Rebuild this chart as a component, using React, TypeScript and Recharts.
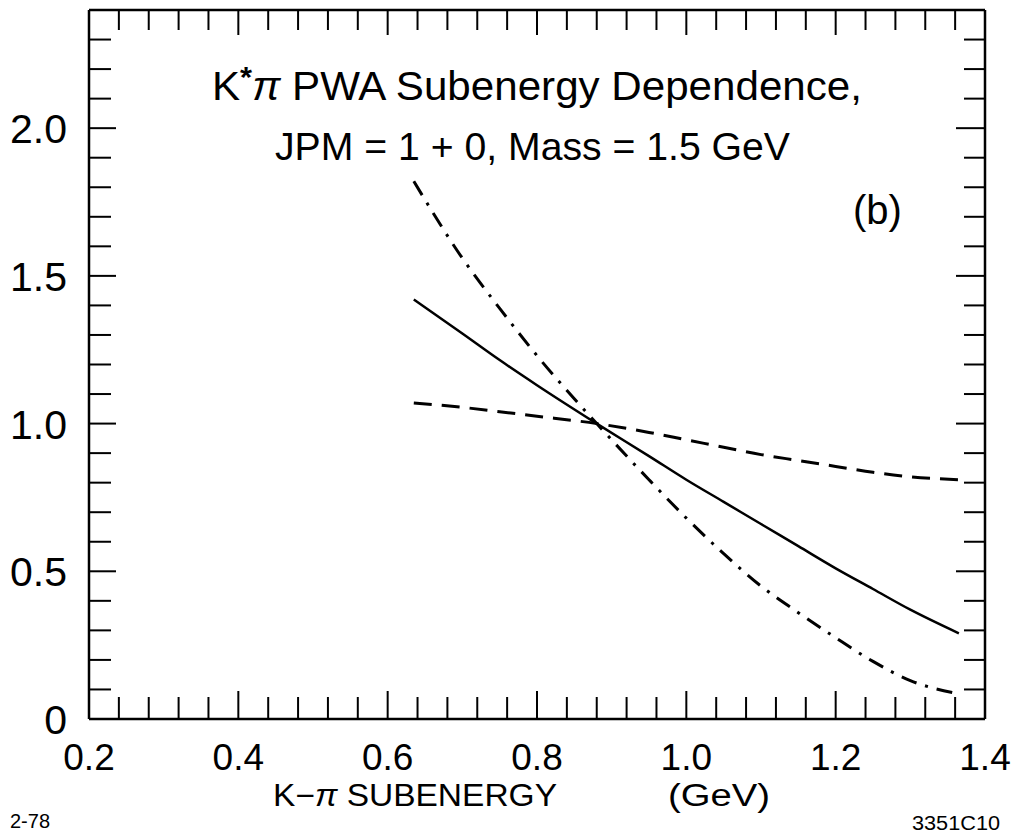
import React from 'react';
import { LineChart, Line, XAxis, YAxis } from 'recharts';

const xs = [0.635, 0.7, 0.75, 0.8, 0.88, 0.95, 1.0, 1.05, 1.1, 1.15, 1.2, 1.25, 1.3, 1.365];
const solid = [1.42, 1.305, 1.215, 1.13, 1.0, 0.89, 0.81, 0.735, 0.66, 0.585, 0.51, 0.44, 0.37, 0.29];
const dashed = [1.07, 1.055, 1.04, 1.025, 1.0, 0.97, 0.945, 0.92, 0.895, 0.875, 0.855, 0.835, 0.82, 0.81];
const dashDot = [1.82, 1.56, 1.39, 1.23, 1.0, 0.81, 0.68, 0.56, 0.45, 0.36, 0.275, 0.195, 0.13, 0.085];

const xTicks = [0.2, 0.24, 0.28, 0.32, 0.36, 0.4, 0.44, 0.48, 0.52, 0.56, 0.6, 0.64, 0.68, 0.72, 0.76, 0.8,
  0.84, 0.88, 0.92, 0.96, 1.0, 1.04, 1.08, 1.12, 1.16, 1.2, 1.24, 1.28, 1.32, 1.36, 1.4];
const yTicks = [0, 0.1, 0.2, 0.3, 0.4, 0.5, 0.6, 0.7, 0.8, 0.9, 1.0, 1.1, 1.2, 1.3, 1.4, 1.5, 1.6, 1.7,
  1.8, 1.9, 2.0, 2.1, 2.2, 2.3, 2.4];
const xLabels: Record<string, string> = { '0.2': '0.2', '0.4': '0.4', '0.6': '0.6', '0.8': '0.8', '1': '1.0', '1.2': '1.2', '1.4': '1.4' };
const yLabels: Record<string, string> = { '0': '0', '0.5': '0.5', '1': '1.0', '1.5': '1.5', '2': '2.0' };

const data = xs.map((x, i) => ({ x, solid: solid[i], dashed: dashed[i], dashDot: dashDot[i] }));

const FONT = '"Liberation Sans", Arial, sans-serif';
const isMajorX = (v: number) => Math.abs(v * 5 - Math.round(v * 5)) < 1e-6;
const isMajorY = (v: number) => Math.abs(v * 2 - Math.round(v * 2)) < 1e-6;

const BottomTick = ({ x, y, payload }: any) => {
  const v = payload.value;
  const major = isMajorX(v);
  const label = xLabels[String(Math.round(v * 10) / 10)];
  return (
    <g>
      <line x1={x} x2={x} y1={y} y2={y - (major ? 28 : 22)} stroke="#000" strokeWidth={2} />
      {major && label && (
        <text x={x} y={y + 51} textAnchor="middle" fontSize={37} fontFamily={FONT} fill="#000">{label}</text>
      )}
    </g>
  );
};

const TopTick = ({ x, y, payload }: any) => {
  const major = isMajorX(payload.value);
  return <line x1={x} x2={x} y1={y} y2={y + (major ? 25 : 20)} stroke="#000" strokeWidth={2} />;
};

const LeftTick = ({ x, y, payload }: any) => {
  const v = payload.value;
  const major = isMajorY(v);
  const label = yLabels[String(Math.round(v * 10) / 10)];
  return (
    <g>
      <line x1={x} x2={x + (major ? 27 : 22)} y1={y} y2={y} stroke="#000" strokeWidth={2} />
      {major && label && (
        <text x={67} y={y + 15} textAnchor="end" fontSize={41} fontFamily={FONT} fill="#000">{label}</text>
      )}
    </g>
  );
};

const RightTick = ({ x, y, payload }: any) => {
  const major = isMajorY(payload.value);
  return <line x1={x} x2={x - (major ? 29 : 21)} y1={y} y2={y} stroke="#000" strokeWidth={2} />;
};

export default function App() {
  return (
    <div style={{ position: 'absolute', left: 0, top: 0, width: 1012, height: 839, background: '#fff' }}>
      <LineChart width={1012} height={839} data={data} margin={{ top: 0, right: 0, bottom: 0, left: 0 }}>
        <XAxis dataKey="x" type="number" domain={[0.2, 1.4]} allowDataOverflow ticks={xTicks} interval={0}
          tickSize={0} tickMargin={0} height={120} tick={<BottomTick />}
          axisLine={{ stroke: '#000', strokeWidth: 2.5 }} />
        <XAxis xAxisId="top" dataKey="x" orientation="top" type="number" domain={[0.2, 1.4]} allowDataOverflow
          ticks={xTicks} interval={0} tickSize={0} tickMargin={0} height={10} tick={<TopTick />}
          axisLine={{ stroke: '#000', strokeWidth: 2.5 }} />
        <YAxis type="number" domain={[0, 2.4]} allowDataOverflow ticks={yTicks} interval={0} tickSize={0}
          tickMargin={0} width={89} tick={<LeftTick />} axisLine={{ stroke: '#000', strokeWidth: 2.5 }} />
        <YAxis yAxisId="right" orientation="right" type="number" domain={[0, 2.4]} allowDataOverflow ticks={yTicks}
          interval={0} tickSize={0} tickMargin={0} width={27} tick={<RightTick />}
          axisLine={{ stroke: '#000', strokeWidth: 2.5 }} />
        <Line type="monotone" dataKey="solid" stroke="#000" strokeWidth={2.5} dot={false} isAnimationActive={false} />
        <Line type="monotone" dataKey="dashed" stroke="#000" strokeWidth={3} strokeDasharray="18 10" dot={false}
          isAnimationActive={false} />
        <Line type="monotone" dataKey="dashDot" stroke="#000" strokeWidth={3} strokeDasharray="16 9 3 9" dot={false}
          isAnimationActive={false} />
      </LineChart>
      <svg width={1012} height={839} style={{ position: 'absolute', left: 0, top: 0, pointerEvents: 'none' }}>
        <g fontFamily={FONT} fill="#000">
          <text x={212} y={100} fontSize={41} textLength={650} lengthAdjust="spacingAndGlyphs">
            K<tspan dy={-13} fontSize={30} fontWeight="bold">*</tspan>
            <tspan dy={13} fontStyle="italic">π</tspan> PWA Subenergy Dependence,
          </text>
          <text x={275} y={160} fontSize={39} textLength={515} lengthAdjust="spacingAndGlyphs">
            JPM = 1 + 0, Mass = 1.5 GeV
          </text>
          <text x={853} y={224} fontSize={40}>(b)</text>
          <text x={273} y={806} fontSize={31} textLength={284} lengthAdjust="spacingAndGlyphs">
            K−<tspan fontStyle="italic">π</tspan> SUBENERGY
          </text>
          <text x={668} y={806} fontSize={31} textLength={102} lengthAdjust="spacingAndGlyphs">(GeV)</text>
          <text x={10} y={828} fontSize={20}>2-78</text>
          <text x={912} y={830} fontSize={20} textLength={88} lengthAdjust="spacingAndGlyphs">3351C10</text>
        </g>
      </svg>
    </div>
  );
}
